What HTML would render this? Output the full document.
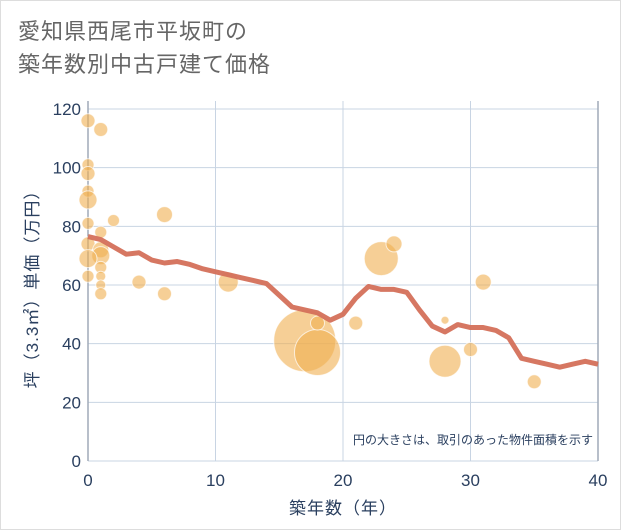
<!DOCTYPE html>
<html><head><meta charset="utf-8"><style>
html,body{margin:0;padding:0;background:#fff}
#wrap{position:relative;width:619px;height:528px;border:1px solid #ddd;font-family:"Liberation Sans","Noto Sans CJK JP",sans-serif}
#title{position:absolute;left:17px;top:14px;font-size:22px;line-height:33px;color:#666;letter-spacing:1px}
svg{position:absolute;left:0;top:0}
</style></head><body>
<div id="wrap">
<div id="title">愛知県西尾市平坂町の<br>築年数別中古戸建て価格</div>
<svg id="chart" width="621" height="530"></svg>
</div>
<script>
const xTicks=[0,10,20,30,40];
const yTicks=[0,20,40,60,80,100,120];
const lineYears=[0,1,2,3,4,5,6,7,8,9,10,11,12,13,14,15,16,17,18,19,20,21,22,23,24,25,26,27,28,29,30,31,32,33,34,35,36,37,38,39,40];
const lineValues=[76.5,75.5,73,70.5,71,68.5,67.5,68,67,65.5,64.5,63.5,62.5,61.5,60.5,56.5,52.5,51.5,50.5,48,50,55.5,59.5,58.5,58.5,57.5,51.5,46,44,46.5,45.5,45.5,44.5,42,35,34,33,32,33,34,33];
const bubbleX=[0,1,0,0,0,0,0,1,2,0,1,1,0,1,1,1,1,0,6,4,6,11,17,18,18,21,23,24,28,28,30,31,35];
const bubbleY=[116,113,101,98,92,89,81,78,82,74,72,70,69,66,63,60,57,63,84,61,57,61,41,37,47,47,69,74,34,48,38,61,27];
const bubbleR=[7,7,6,7,6,9,6,6,6,7,8,9,9,6,5,5,6,6,8,7,7,10,31,23,7,7,17,8,16,4,7,8,7];
const X0=87,X1=597,Y0=460,Y1=108;
const sx=v=>X0+(v-0)/40*(X1-X0);
const sy=v=>Y0-(v-0)/120*(Y0-Y1);
const svg=document.getElementById('chart');
const NS='http://www.w3.org/2000/svg';
function mk(t,a){const e=document.createElementNS(NS,t);for(const k in a)e.setAttribute(k,a[k]);svg.appendChild(e);return e;}
for(const t of yTicks){
 const g=mk('line',{x1:X0,x2:X1,y1:sy(t),y2:sy(t),stroke:'#c8d4e3','stroke-width':1});
 
 
 const l=mk('text',{x:X0-7,y:sy(t)+6,'text-anchor':'end','font-size':17,fill:'#2a3f5f'});
 l.textContent=t;
 
 
}
for(const t of xTicks){
 const g=mk('line',{x1:sx(t),x2:sx(t),y1:Y1-8,y2:Y0,stroke:'#c8d4e3','stroke-width':1});
 
 
 const l=mk('text',{x:sx(t),y:Y0+25,'text-anchor':'middle','font-size':17,fill:'#2a3f5f'});
 l.textContent=t;
 
 
}
const ax=mk('line',{x1:X0,x2:X0,y1:Y1-8,y2:Y0,stroke:'#a0aab8','stroke-width':1.5});


const ax2=mk('line',{x1:X1,x2:X1,y1:Y1-8,y2:Y0,stroke:'#a0aab8','stroke-width':1.5});


for(let i=0;i<bubbleX.length;i++){
 const c=mk('circle',{cx:sx(bubbleX[i]),cy:sy(bubbleY[i]),r:bubbleR[i],fill:'rgba(240,175,80,0.6)',stroke:'rgba(255,255,255,0.7)','stroke-width':1});
 
 
}
const p=mk('polyline',{points:lineYears.map((y,i)=>sx(y)+','+sy(lineValues[i])).join(' '),fill:'none',stroke:'#d4705a','stroke-width':5,'stroke-linejoin':'round','stroke-opacity':0.95});


const xt=mk('text',{x:(X0+X1)/2,y:513,'text-anchor':'middle','font-size':17,fill:'#2a3f5f','letter-spacing':'1'});
xt.textContent='築年数（年）';


const yt=mk('text',{x:0,y:0,'text-anchor':'middle','font-size':17,fill:'#2a3f5f',transform:'translate(37,'+((Y0+Y1)/2)+') rotate(-90)','letter-spacing':'1'});
yt.textContent='坪（3.3㎡）単価（万円）';


const note=mk('text',{x:592,y:443,'text-anchor':'end','font-size':12,fill:'#2a3f5f'});
note.textContent='円の大きさは、取引のあった物件面積を示す';


</script>
</body></html>
